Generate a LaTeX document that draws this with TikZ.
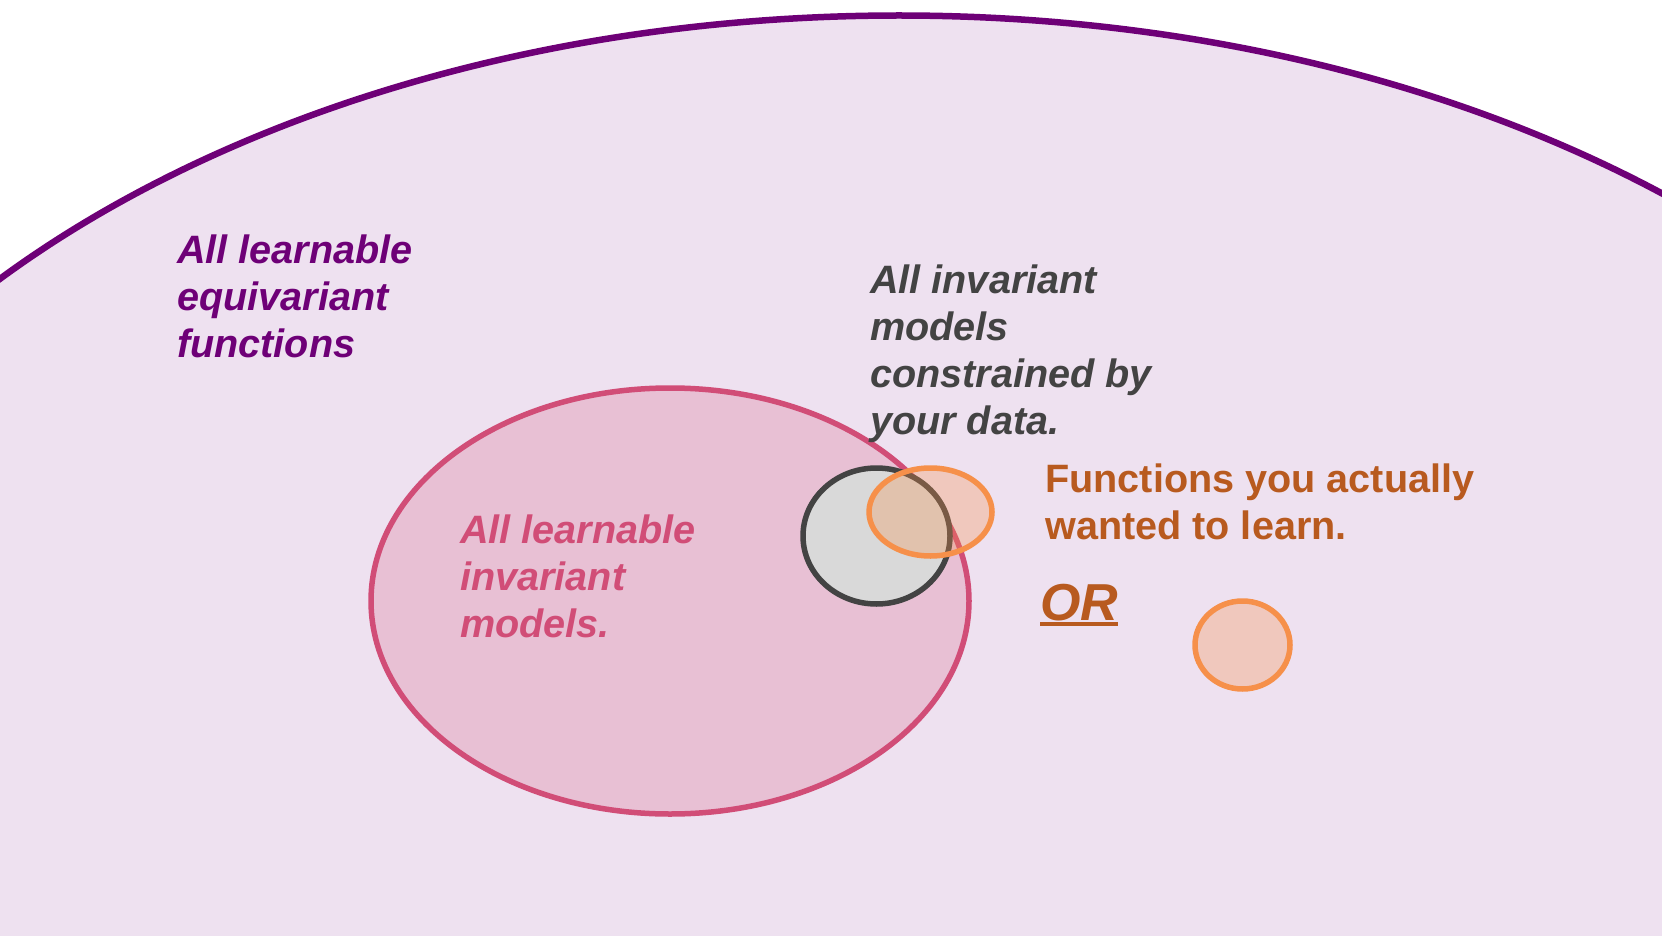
\documentclass[tikz,border=0pt]{standalone}
\usepackage{fontspec}
\setmainfont{Liberation Sans}
\definecolor{purp}{HTML}{6E0077}
\definecolor{lav}{HTML}{EEE1F0}
\definecolor{pinkline}{HTML}{D14D77}
\definecolor{pinkfill}{HTML}{E8C0D4}
\definecolor{grayline}{HTML}{434343}
\definecolor{grayfill}{HTML}{D9D9D9}
\definecolor{orline}{HTML}{F6904A}
\definecolor{ortext}{HTML}{B85A1F}
\tikzset{
  lbl/.style={anchor=base west, inner sep=0pt, font=\fontsize{39.6}{47}\selectfont\bfseries\itshape},
  lblup/.style={anchor=base west, inner sep=0pt, font=\fontsize{39.6}{47}\selectfont\bfseries},
  target/.style={draw=orline, line width=5.5pt, fill=orline, fill opacity=0.3},
}
\begin{document}
\begin{tikzpicture}[x=1pt,y=-1pt]
\useasboundingbox (0,0) rectangle (1662,936);
\fill[white] (0,0) rectangle (1662,936);
\begin{scope}
\clip (0,0) rectangle (1662,936);
\draw[purp, line width=6.5pt, fill=lav] (899,795.5) ellipse [x radius=1200, y radius=780];
\end{scope}
% learnable invariant models
\draw[pinkline, line width=5.5pt, fill=pinkfill] (670,601) ellipse [x radius=299, y radius=213];
% data constrained
\draw[grayline, line width=5.5pt, fill=grayfill] (876.5,536) ellipse [x radius=73.5, y radius=68];
% targets
\draw[target] (930.5,512) ellipse [x radius=61.5, y radius=44];
\draw[target] (1242.5,645) ellipse [x radius=47.5, y radius=44];
% texts
\node[lbl, purp] (eqa) at (177,263) {All learnable};
\node[lbl, purp] (eqb) at (177,310) {equivariant};
\node[lbl, purp] (eqc) at (177,357) {functions};
\node[lbl, grayline] (da) at (870,293) {All invariant};
\node[lbl, grayline] (db) at (870,340) {models};
\node[lbl, grayline] (dc) at (870,387) {constrained by};
\node[lbl, grayline] (dd) at (870,434) {your data.};
\node[lbl, pinkline] (ia) at (460,543) {All learnable};
\node[lbl, pinkline] (ib) at (460,590) {invariant};
\node[lbl, pinkline] (ic) at (460,637) {models.};
\node[lblup, ortext] (fa) at (1045,492) {Functions you actually};
\node[lblup, ortext] (fb) at (1045,539) {wanted to learn.};
\node[anchor=base west, inner sep=0pt, ortext, font=\fontsize{52}{60}\selectfont\bfseries\itshape] (or) at (1040,620) {OR};
\draw[ortext, line width=4pt] ([yshift=-4pt]or.base west) -- ([yshift=-4pt]or.base east);
\end{tikzpicture}
\end{document}
